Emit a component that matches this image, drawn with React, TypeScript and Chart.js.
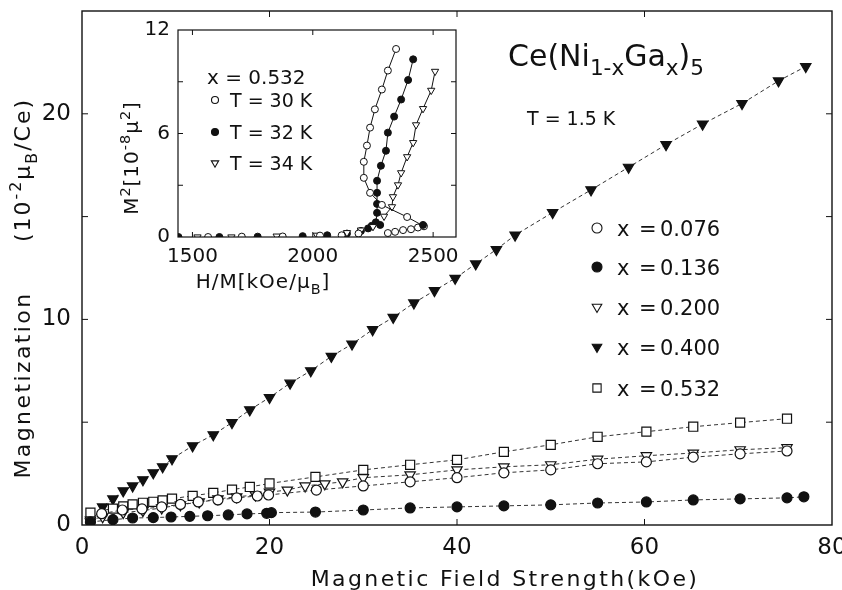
import React, { useEffect, useRef } from 'react';
import { Chart, registerables } from 'chart.js';
Chart.register(...registerables);

const FONT = '"DejaVu Sans", sans-serif';
const WEIGHT = 400;
const INK = '#111';

// ---------- main plot data (Magnetization vs field) ----------
const MAIN_X_TICKS = [0, 20, 40, 60, 80];
const MAIN_Y_TICKS = [0, 5, 10, 15, 20, 25];
const MAIN_Y_LABELED = [0, 10, 20];

const x076_H = [2.1, 4.3, 6.4, 8.5, 10.5, 12.4, 14.5, 16.5, 18.7, 19.9, 25.0, 30.0, 35.0, 40.0, 45.0, 50.0, 55.0, 60.2, 65.2, 70.2, 75.2];
const x076_M = [0.55, 0.73, 0.78, 0.88, 1.0, 1.12, 1.22, 1.32, 1.41, 1.46, 1.7, 1.9, 2.1, 2.3, 2.54, 2.68, 2.98, 3.07, 3.3, 3.46, 3.6];

const x136_H = [0.9, 3.3, 5.4, 7.6, 9.5, 11.5, 13.4, 15.6, 17.6, 19.7, 20.2, 24.9, 30.0, 35.0, 40.0, 45.0, 50.0, 55.0, 60.2, 65.2, 70.2, 75.2, 77.0];
const x136_M = [0.15, 0.26, 0.34, 0.36, 0.39, 0.42, 0.45, 0.49, 0.54, 0.57, 0.6, 0.63, 0.73, 0.83, 0.88, 0.93, 0.98, 1.07, 1.12, 1.22, 1.27, 1.32, 1.37];

const x200_H = [0.9, 2.2, 4.4, 6.5, 8.5, 10.5, 12.5, 14.5, 16.5, 18.5, 20.0, 21.9, 23.8, 25.9, 27.8, 30.0, 35.0, 40.0, 45.0, 50.0, 55.0, 60.2, 65.2, 70.2, 75.2];
const x200_M = [0.24, 0.4, 0.6, 0.7, 0.83, 0.98, 1.12, 1.27, 1.37, 1.46, 1.6, 1.7, 1.9, 2.0, 2.1, 2.3, 2.44, 2.68, 2.83, 2.93, 3.2, 3.37, 3.5, 3.66, 3.76];

const x400_H = [0.9, 2.2, 3.3, 4.4, 5.4, 6.5, 7.6, 8.6, 9.6, 11.8, 14.0, 16.0, 17.9, 20.0, 22.2, 24.4, 26.6, 28.8, 31.0, 33.2, 35.4, 37.6, 39.8, 42.0, 44.2, 46.2, 50.2, 54.3, 58.3, 62.3, 66.2, 70.4, 74.3, 77.2];
const x400_M = [0.15, 0.88, 1.27, 1.66, 1.9, 2.2, 2.54, 2.83, 3.22, 3.85, 4.39, 4.98, 5.6, 6.2, 6.9, 7.5, 8.2, 8.8, 9.5, 10.1, 10.8, 11.4, 12.0, 12.7, 13.4, 14.1, 15.2, 16.3, 17.4, 18.5, 19.5, 20.5, 21.6, 22.3];

const x532_H = [0.9, 3.3, 4.4, 5.4, 6.5, 7.6, 8.6, 9.6, 11.8, 14.0, 16.0, 17.9, 20.0, 24.9, 30.0, 35.0, 40.0, 45.0, 50.0, 55.0, 60.2, 65.2, 70.2, 75.2];
const x532_M = [0.6, 0.8, 0.9, 1.0, 1.08, 1.13, 1.2, 1.28, 1.42, 1.56, 1.72, 1.85, 2.02, 2.34, 2.68, 2.93, 3.17, 3.56, 3.9, 4.29, 4.54, 4.78, 4.98, 5.17];

const LEGEND_LABELS = ['0.076', '0.136', '0.200', '0.400', '0.532'];

// ---------- inset data (Arrott plot, x = 0.532) ----------
const INSET_X_TICKS = [1500, 2000, 2500];
const INSET_Y_TICKS = [0, 3, 6, 9, 12];
const INSET_Y_LABELED = [0, 6, 12];

const T30_LOW_HM = [1565, 1705, 1875, 2030, 2120, 2190];
const T30_LOW_M2 = [0, 0.02, 0.03, 0.08, 0.1, 0.2];
const T30_HM = [2312, 2342, 2375, 2408, 2437, 2462, 2392, 2287, 2238, 2212, 2212, 2225, 2238, 2258, 2287, 2312, 2346];
const T30_M2 = [0.23, 0.3, 0.4, 0.45, 0.55, 0.62, 1.16, 1.86, 2.56, 3.43, 4.36, 5.3, 6.34, 7.4, 8.55, 9.65, 10.9];

const T32_LOW_HM = [1442, 1612, 1771, 1958, 2060, 2142, 2200, 2230, 2245, 2280, 2458];
const T32_LOW_M2 = [0, 0, 0.02, 0.05, 0.1, 0.2, 0.35, 0.5, 0.65, 0.7, 0.7];
const T32_HM = [2262, 2267, 2267, 2267, 2267, 2283, 2304, 2312, 2338, 2367, 2396, 2417];
const T32_M2 = [0.85, 1.4, 1.92, 2.56, 3.26, 4.13, 5.0, 6.05, 6.98, 7.97, 9.1, 10.3];

const T34_LOW_HM = [1521, 1662, 1850, 2017, 2142, 2200, 2250];
const T34_LOW_M2 = [0, 0, 0.05, 0.1, 0.25, 0.4, 0.6];
const T34_HM = [2296, 2329, 2333, 2354, 2367, 2392, 2417, 2429, 2458, 2492, 2508];
const T34_M2 = [1.2, 1.75, 2.33, 3.02, 3.72, 4.65, 5.47, 6.5, 7.44, 8.5, 9.6];

const INSET_LEGEND = ['T = 30 K', 'T = 32 K', 'T = 34 K'];

// ---------- layout ----------
const INSET_LEFT = 110;
const INSET_TOP = 20;

type Seg = { t: string; s?: 'sub' | 'sup' };

function drawRich(
  ctx: CanvasRenderingContext2D,
  segs: Seg[],
  x: number,
  y: number,
  size: number,
  opts: { align?: 'left' | 'center'; rotate?: boolean; spacing?: number } = {}
) {
  ctx.save();
  ctx.translate(x, y);
  if (opts.rotate) ctx.rotate(-Math.PI / 2);
  ctx.textBaseline = 'alphabetic';
  ctx.textAlign = 'left';
  ctx.fillStyle = INK;
  const small = size * 0.72;
  const sp = opts.spacing ?? 0;
  (ctx as any).letterSpacing = sp + 'px';
  let w = 0;
  const parts = segs.map((sg) => {
    const fs = sg.s ? small : size;
    ctx.font = `${WEIGHT} ${fs}px ${FONT}`;
    const m = ctx.measureText(sg.t).width;
    const dy = sg.s === 'sub' ? size * 0.3 : sg.s === 'sup' ? -size * 0.42 : 0;
    w += m;
    return { t: sg.t, fs, m, dy };
  });
  let cx = opts.align === 'left' ? 0 : -w / 2;
  const base = size * 0.365;
  for (const p of parts) {
    ctx.font = `${WEIGHT} ${p.fs}px ${FONT}`;
    ctx.fillText(p.t, cx, base + p.dy);
    cx += p.m;
  }
  ctx.restore();
}

function drawMarker(ctx: CanvasRenderingContext2D, kind: string, x: number, y: number, r: number, filled: boolean) {
  ctx.save();
  ctx.beginPath();
  if (kind === 'circle') {
    ctx.arc(x, y, r, 0, Math.PI * 2);
  } else if (kind === 'tri') {
    ctx.moveTo(x - r * 0.87, y - r * 0.5);
    ctx.lineTo(x + r * 0.87, y - r * 0.5);
    ctx.lineTo(x, y + r);
    ctx.closePath();
  } else {
    const s = r * 0.75;
    ctx.rect(x - s, y - s, 2 * s, 2 * s);
  }
  ctx.fillStyle = filled ? INK : '#fff';
  ctx.fill();
  ctx.lineWidth = 1.1;
  ctx.strokeStyle = INK;
  ctx.stroke();
  ctx.restore();
}

const framePlugin = (tickLen: number, lw: number) => ({
  id: 'frame',
  afterDraw(chart: any) {
    const { ctx, chartArea: a, scales } = chart;
    ctx.save();
    ctx.setLineDash([]);
    ctx.strokeStyle = INK;
    ctx.lineWidth = lw;
    ctx.strokeRect(a.left, a.top, a.right - a.left, a.bottom - a.top);
    ctx.lineWidth = 1;
    ctx.beginPath();
    for (const t of scales.x.ticks) {
      const px = scales.x.getPixelForValue(t.value);
      if (px <= a.left + 1 || px >= a.right - 1) continue;
      ctx.moveTo(px, a.bottom);
      ctx.lineTo(px, a.bottom - tickLen);
      ctx.moveTo(px, a.top);
      ctx.lineTo(px, a.top + tickLen);
    }
    for (const t of scales.y.ticks) {
      const py = scales.y.getPixelForValue(t.value);
      if (py <= a.top + 1 || py >= a.bottom - 1) continue;
      ctx.moveTo(a.left, py);
      ctx.lineTo(a.left + tickLen, py);
      ctx.moveTo(a.right, py);
      ctx.lineTo(a.right - tickLen, py);
    }
    ctx.stroke();
    ctx.restore();
  },
});

const pts = (xs: number[], ys: number[]) => xs.map((x, i) => ({ x, y: ys[i] }));

const mainSeries = (data: any, style: string, filled: boolean, radius: number, rot = 0) => ({
  data,
  showLine: true,
  borderColor: '#333',
  borderWidth: 1,
  borderDash: [4, 3],
  pointStyle: style,
  pointRotation: rot,
  pointRadius: radius,
  pointBackgroundColor: filled ? INK : '#fff',
  pointBorderColor: INK,
  pointBorderWidth: 1.2,
});

const insetSeries = (data: any, style: string, filled: boolean, radius: number, line: boolean, rot = 0) => ({
  data,
  showLine: line,
  borderColor: INK,
  borderWidth: 1,
  pointStyle: style,
  pointRotation: rot,
  pointRadius: radius,
  pointBackgroundColor: filled ? INK : '#fff',
  pointBorderColor: INK,
  pointBorderWidth: 1,
});

const mainText = {
  id: 'mainText',
  afterDraw(chart: any) {
    const ctx: CanvasRenderingContext2D = chart.ctx;
    drawRich(ctx, [{ t: 'Magnetic Field Strength(kOe)' }], 505, 578, 22, { spacing: 2.4 });
    drawRich(ctx, [{ t: 'Magnetization' }], 22, 385, 22, { rotate: true, spacing: 2.4 });
    drawRich(ctx, [{ t: '(10' }, { t: '-2', s: 'sup' }, { t: 'μ' }, { t: 'B', s: 'sub' }, { t: '/Ce)' }], 22, 170, 22, { rotate: true, spacing: 2 });
    drawRich(ctx, [{ t: 'Ce(Ni' }, { t: '1-x', s: 'sub' }, { t: 'Ga' }, { t: 'x', s: 'sub' }, { t: ')' }, { t: '5', s: 'sub' }], 508, 55, 30, { align: 'left' });
    drawRich(ctx, [{ t: 'T = 1.5 K' }], 527, 118, 19, { align: 'left' });
    const kinds = [['circle', false], ['circle', true], ['tri', false], ['tri', true], ['rect', false]] as const;
    const rows = [228, 267, 307, 347, 388];
    LEGEND_LABELS.forEach((lab, i) => {
      const y = rows[i];
      drawMarker(ctx, kinds[i][0], 597, y, kinds[i][0] === 'circle' ? 5 : 5.5, kinds[i][1]);
      drawRich(ctx, [{ t: 'x' }], 617, y, 21, { align: 'left' });
      drawRich(ctx, [{ t: '=' }], 639, y, 21, { align: 'left' });
      drawRich(ctx, [{ t: lab }], 660, y, 21, { align: 'left' });
    });
  },
};

const insetText = {
  id: 'insetText',
  afterDraw(chart: any) {
    const ctx: CanvasRenderingContext2D = chart.ctx;
    const ox = INSET_LEFT, oy = INSET_TOP;
    drawRich(ctx, [{ t: 'H/M[kOe/μ' }, { t: 'B', s: 'sub' }, { t: ']' }], 263 - ox, 281 - oy, 20, { spacing: 1 });
    drawRich(ctx, [{ t: 'M' }, { t: '2', s: 'sup' }, { t: '[10' }, { t: '-8', s: 'sup' }, { t: 'μ' }, { t: '2', s: 'sup' }, { t: ']' }], 131 - ox, 158 - oy, 20, { rotate: true, spacing: 1 });
    drawRich(ctx, [{ t: 'x = 0.532' }], 207 - ox, 77 - oy, 20, { align: 'left' });
    const kinds = [['circle', false], ['circle', true], ['tri', false]] as const;
    const rows = [100, 132, 163];
    INSET_LEGEND.forEach((lab, i) => {
      drawMarker(ctx, kinds[i][0], 215 - ox, rows[i] - oy, kinds[i][0] === 'circle' ? 3.5 : 4.2, kinds[i][1]);
      drawRich(ctx, [{ t: lab }], 230 - ox, rows[i] - oy, 19, { align: 'left' });
    });
  },
};

const fixX = (h: number) => (s: any) => { s.height = h; s.paddingLeft = 0; s.paddingRight = 0; };
const fixY = (w: number) => (s: any) => { s.width = w; s.paddingTop = 0; s.paddingBottom = 0; };

export default function App() {
  const mainRef = useRef<HTMLCanvasElement>(null);
  const insetRef = useRef<HTMLCanvasElement>(null);

  useEffect(() => {
    Chart.defaults.font.family = FONT;
    Chart.defaults.color = INK;

    const main = new Chart(mainRef.current as HTMLCanvasElement, {
      type: 'scatter',
      data: {
        datasets: [
          mainSeries(pts(x136_H, x136_M), 'circle', true, 5),
          mainSeries(pts(x076_H, x076_M), 'circle', false, 5),
          mainSeries(pts(x200_H, x200_M), 'triangle', false, 6, 180),
          mainSeries(pts(x532_H, x532_M), 'rect', false, 6.4),
          mainSeries(pts(x400_H, x400_M), 'triangle', true, 6, 180),
        ] as any,
      },
      options: {
        animation: false,
        responsive: false,
        maintainAspectRatio: false,
        layout: { padding: { top: 11, right: 10, left: 0, bottom: 0 } },
        plugins: { legend: { display: false }, tooltip: { enabled: false } },
        scales: {
          x: {
            type: 'linear',
            min: 0,
            max: 80,
            afterBuildTicks: (s: any) => { s.ticks = MAIN_X_TICKS.map((v) => ({ value: v })); },
            ticks: { font: { size: 23, family: FONT, weight: WEIGHT }, color: INK, padding: 9, maxRotation: 0, autoSkip: false, callback: (v: any) => String(v) },
            grid: { display: false, drawTicks: false },
            border: { display: false },
            afterFit: fixX(65),
          },
          y: {
            type: 'linear',
            min: 0,
            max: 25,
            afterBuildTicks: (s: any) => { s.ticks = MAIN_Y_TICKS.map((v) => ({ value: v })); },
            ticks: {
              font: { size: 23, family: FONT, weight: WEIGHT },
              color: INK,
              padding: 11,
              autoSkip: false,
              callback: (v: any) => (MAIN_Y_LABELED.includes(Number(v)) ? String(v) : ''),
            },
            grid: { display: false, drawTicks: false },
            border: { display: false },
            afterFit: fixY(82),
          },
        },
      } as any,
      plugins: [framePlugin(6, 1.4), mainText],
    });

    const inset = new Chart(insetRef.current as HTMLCanvasElement, {
      type: 'scatter',
      data: {
        datasets: [
          insetSeries(pts(T30_LOW_HM, T30_LOW_M2), 'circle', false, 3.5, false),
          insetSeries(pts(T34_LOW_HM, T34_LOW_M2), 'triangle', false, 4.2, false, 180),
          insetSeries(pts(T32_LOW_HM, T32_LOW_M2), 'circle', true, 3.5, false),
          insetSeries(pts(T30_HM, T30_M2), 'circle', false, 3.5, true),
          insetSeries(pts(T34_HM, T34_M2), 'triangle', false, 4.2, true, 180),
          insetSeries(pts(T32_HM, T32_M2), 'circle', true, 3.5, true),
        ] as any,
      },
      options: {
        animation: false,
        responsive: false,
        maintainAspectRatio: false,
        layout: { padding: { top: 10, right: 14, left: 0, bottom: 0 } },
        plugins: { legend: { display: false }, tooltip: { enabled: false } },
        scales: {
          x: {
            type: 'linear',
            min: 1440,
            max: 2595,
            afterBuildTicks: (s: any) => { s.ticks = INSET_X_TICKS.map((v) => ({ value: v })); },
            ticks: { font: { size: 20, family: FONT, weight: WEIGHT }, color: INK, padding: 8, maxRotation: 0, autoSkip: false, callback: (v: any) => String(v) },
            grid: { display: false, drawTicks: false },
            border: { display: false },
            afterFit: fixX(63),
          },
          y: {
            type: 'linear',
            min: 0,
            max: 12,
            afterBuildTicks: (s: any) => { s.ticks = INSET_Y_TICKS.map((v) => ({ value: v })); },
            ticks: {
              font: { size: 20, family: FONT, weight: WEIGHT },
              color: INK,
              padding: 8,
              autoSkip: false,
              callback: (v: any) => (INSET_Y_LABELED.includes(Number(v)) ? String(v) : ''),
            },
            grid: { display: false, drawTicks: false },
            border: { display: false },
            afterFit: fixY(68),
          },
        },
      } as any,
      plugins: [framePlugin(5, 1.2), insetText],
    });

    return () => {
      main.destroy();
      inset.destroy();
    };
  }, []);

  return (
    <div style={{ position: 'fixed', left: 0, top: 0, width: 842, height: 590, background: '#fff' }}>
      <canvas ref={mainRef} width={842} height={590} style={{ position: 'absolute', left: 0, top: 0, width: 842, height: 590 }} />
      <canvas ref={insetRef} width={360} height={280} style={{ position: 'absolute', left: INSET_LEFT, top: INSET_TOP, width: 360, height: 280 }} />
    </div>
  );
}
